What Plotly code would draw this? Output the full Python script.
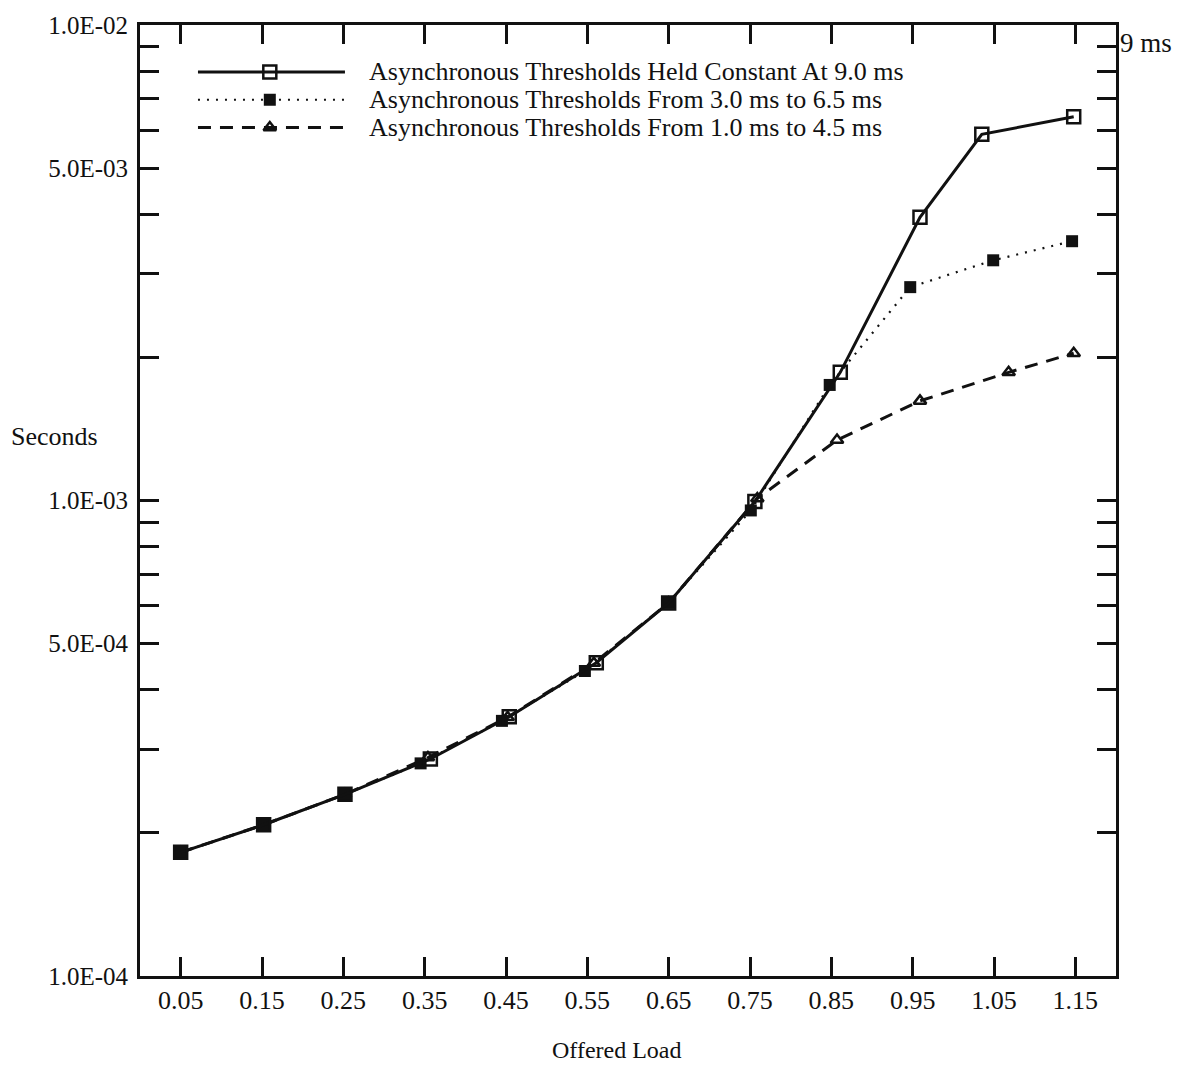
import plotly.graph_objects as go

# Mean delay (seconds) versus offered load for three asynchronous threshold settings
load_const = [0.050, 0.152, 0.252, 0.357, 0.454, 0.561, 0.650, 0.756, 0.861, 0.959, 1.035, 1.148]
sec_const = [1.82e-4, 2.08e-4, 2.41e-4, 2.86e-4, 3.51e-4, 4.56e-4, 6.09e-4, 9.95e-4,
             1.86e-3, 3.94e-3, 5.89e-3, 6.41e-3]

load_3to65 = [0.050, 0.152, 0.252, 0.345, 0.445, 0.547, 0.650, 0.751, 0.848, 0.947, 1.049, 1.146]
sec_3to65 = [1.82e-4, 2.08e-4, 2.41e-4, 2.80e-4, 3.44e-4, 4.38e-4, 6.09e-4, 9.53e-4,
             1.75e-3, 2.81e-3, 3.20e-3, 3.51e-3]

load_1to45 = [0.050, 0.152, 0.252, 0.354, 0.452, 0.558, 0.650, 0.759, 0.857, 0.959, 1.068, 1.148]
sec_1to45 = [1.82e-4, 2.08e-4, 2.41e-4, 2.88e-4, 3.50e-4, 4.55e-4, 6.09e-4, 1.01e-3,
             1.34e-3, 1.62e-3, 1.86e-3, 2.04e-3]

series_names = [
    "Asynchronous Thresholds Held Constant At 9.0 ms",
    "Asynchronous Thresholds From 3.0 ms to 6.5 ms",
    "Asynchronous Thresholds From 1.0 ms to 4.5 ms",
]

x_tickvals = [0.05, 0.15, 0.25, 0.35, 0.45, 0.55, 0.65, 0.75, 0.85, 0.95, 1.05, 1.15]
x_ticktext = ["0.05", "0.15", "0.25", "0.35", "0.45", "0.55", "0.65", "0.75",
              "0.85", "0.95", "1.05", "1.15"]

y_labelled = {1e-4: "1.0E-04", 5e-4: "5.0E-04", 1e-3: "1.0E-03", 5e-3: "5.0E-03", 1e-2: "1.0E-02"}

FONT = "Liberation Serif, Times New Roman, serif"
INK = "#111111"

# line / marker styles per series
styles = [
    dict(line=dict(color=INK, width=3, dash="solid"),
         marker=dict(symbol="square-open", size=13, color=INK, line=dict(width=2.5))),
    dict(line=dict(color=INK, width=2.2, dash="2px,7px"),
         marker=dict(symbol="square", size=12, color=INK, line=dict(width=0))),
    dict(line=dict(color=INK, width=3, dash="13px,9px"),
         marker=dict(symbol="triangle-up-open", size=11, color=INK, line=dict(width=2.5))),
]

fig = go.Figure()

data = [(load_const, sec_const), (load_3to65, sec_3to65), (load_1to45, sec_1to45)]
# dashed series first, filled squares over it, open squares on top
for idx in (2, 1, 0):
    xs, ys = data[idx]
    fig.add_trace(go.Scatter(
        x=xs, y=ys, mode="lines+markers", name=series_names[idx],
        line=styles[idx]["line"], marker=styles[idx]["marker"],
        showlegend=False, cliponaxis=False,
    ))

# hand-built key in the upper-left corner (overlay axes spanning the plot area, 0..1)
key_x0, key_x1, key_xm = 0.0594, 0.21, 0.133
key_rows = [0.9507, 0.9214, 0.8922]
key_text_x = 0.2326
for i, ry in enumerate(key_rows):
    fig.add_trace(go.Scatter(
        x=[key_x0, key_x1], y=[ry, ry], mode="lines", line=styles[i]["line"],
        xaxis="x2", yaxis="y2", showlegend=False, hoverinfo="skip",
    ))
    fig.add_trace(go.Scatter(
        x=[key_xm], y=[ry], mode="markers", marker=styles[i]["marker"],
        xaxis="x2", yaxis="y2", showlegend=False, hoverinfo="skip",
    ))
    fig.add_annotation(
        x=key_text_x, y=ry, xref="x2", yref="y2", text=series_names[i],
        showarrow=False, xanchor="left", yanchor="middle",
        font=dict(family=FONT, size=26, color=INK),
    )

# log-axis ticks at every 1..9 multiple, labels only at 1 and 5
y_tickvals, y_ticktext = [], []
for dec in (1e-4, 1e-3):
    for m in range(1, 10):
        v = round(m * dec, 10)
        y_tickvals.append(v)
        y_ticktext.append(y_labelled.get(v, ""))
y_tickvals.append(1e-2)
y_ticktext.append(y_labelled[1e-2])

axis_common = dict(
    showgrid=False, zeroline=False, showline=True, linecolor=INK, linewidth=3,
    ticks="inside", tickcolor=INK, tickwidth=2.5, mirror="ticks",
)

fig.update_layout(
    width=1193, height=1070,
    margin=dict(l=140, r=77, t=22, b=94),
    paper_bgcolor="white", plot_bgcolor="white",
    font=dict(family=FONT, color=INK),
    xaxis=dict(
        range=[0, 1.2], tickmode="array", tickvals=x_tickvals, ticktext=x_ticktext,
        ticklen=19, tickfont=dict(family=FONT, size=26, color=INK),
        ticklabelstandoff=-1, **axis_common,
    ),
    yaxis=dict(
        type="log", range=[-4, -2], tickmode="array", tickvals=y_tickvals,
        ticktext=y_ticktext, ticklen=19, tickfont=dict(family=FONT, size=25, color=INK),
        ticklabelstandoff=4, **axis_common,
    ),
    xaxis2=dict(overlaying="x", anchor="y", range=[0, 1], visible=False, fixedrange=True),
    yaxis2=dict(overlaying="y", anchor="x", range=[0, 1], visible=False, fixedrange=True),
    showlegend=False,
)

# axis titles and the right-hand "9 ms" label (plot area spans 976 x 954 px)
fig.add_annotation(xref="paper", yref="paper", x=(617 - 140) / 976, y=-(1050 - 976) / 954,
                   text="Offered Load", showarrow=False, xanchor="center", yanchor="middle",
                   font=dict(family=FONT, size=24, color=INK))
fig.add_annotation(xref="paper", yref="paper", x=(54 - 140) / 976, y=(976 - 435) / 954,
                   text="Seconds", showarrow=False, xanchor="center", yanchor="middle",
                   font=dict(family=FONT, size=26, color=INK))
fig.add_annotation(xref="paper", yref="paper", x=1.002, y=(976 - 40) / 954,
                   text="9 ms", showarrow=False, xanchor="left", yanchor="middle",
                   font=dict(family=FONT, size=27, color=INK))

fig.write_html("out.html")
